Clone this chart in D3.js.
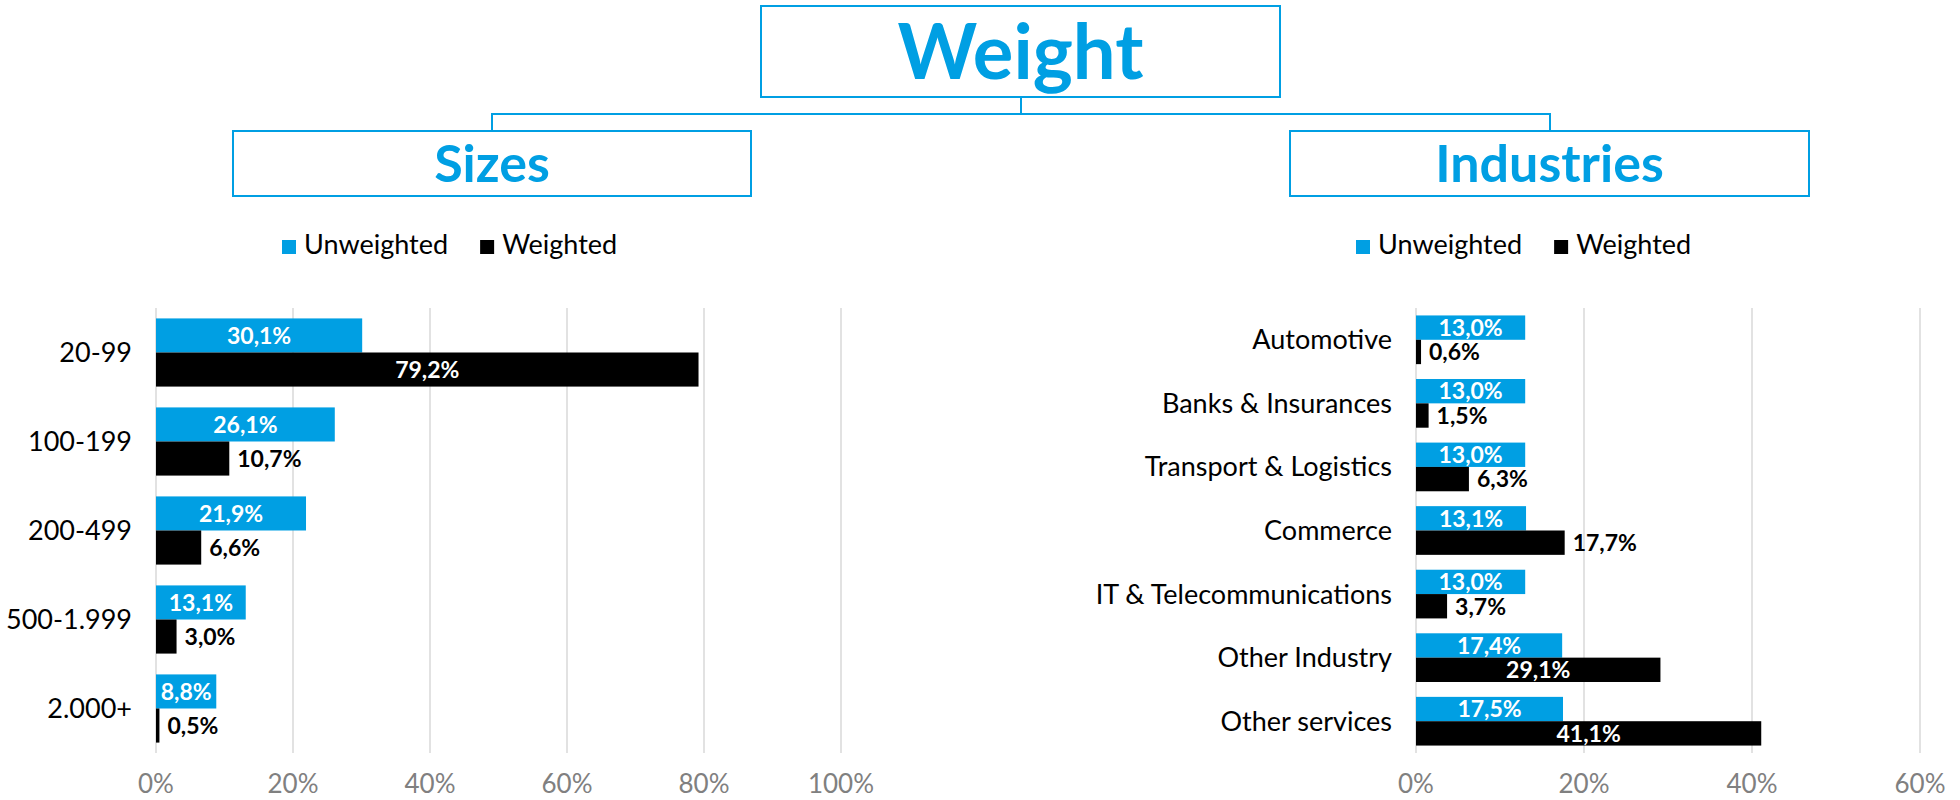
<!DOCTYPE html>
<html>
<head>
<meta charset="utf-8">
<script src="https://cdn.jsdelivr.net/npm/d3@7"></script>
<style>
  body { margin: 0; background: #fff; }
  svg { display: block; font-family: Lato, "Open Sans", sans-serif; }
</style>
</head>
<body>
<svg id="chart"></svg>
<script>
// chart values
const sizeCats = ["20-99", "100-199", "200-499", "500-1.999", "2.000+"];
const sizeUnweighted = [0.301, 0.261, 0.219, 0.131, 0.088];
const sizeWeighted = [0.792, 0.107, 0.066, 0.030, 0.005];

const industryCats = ["Automotive", "Banks & Insurances", "Transport & Logistics", "Commerce",
    "IT & Telecommunications", "Other Industry", "Other services"];
const industryUnweighted = [0.130, 0.130, 0.130, 0.131, 0.130, 0.174, 0.175];
const industryWeighted = [0.006, 0.015, 0.063, 0.177, 0.037, 0.291, 0.411];

const seriesNames = ["Unweighted", "Weighted"];
const sizeTicks = [0, 0.2, 0.4, 0.6, 0.8, 1];
const industryTicks = [0, 0.2, 0.4, 0.6];

const blue = "#009fe3";
const colors = [blue, "#000000"];

const svg = d3.select("#chart")
    .attr("width", 1960)
    .attr("height", 800);

// german style percent format (comma decimal)
const locale = d3.formatLocale({ decimal: ",", thousands: ".", grouping: [3], currency: ["", "€"] });
const fmtValue = locale.format(".1%");
const fmtTick = locale.format(".0%");

// ---- header: title boxes and connectors
let header = svg.append("g");

// connector lines
header.append("path")
    .attr("d", "M1021,97 V114 M492,131 V114 H1550 V131")
    .attr("fill", "none")
    .attr("stroke", blue)
    .attr("stroke-width", 2);

let boxes = [
    { text: "Weight", x: 761, y: 6, w: 519, h: 91, size: 76 },
    { text: "Sizes", x: 233, y: 131, w: 518, h: 65, size: 52 },
    { text: "Industries", x: 1290, y: 131, w: 519, h: 65, size: 52 }
];

header.selectAll("rect")
    .data(boxes)
    .enter().append("rect")
        .attr("x", d => d.x)
        .attr("y", d => d.y)
        .attr("width", d => d.w)
        .attr("height", d => d.h)
        .attr("fill", "#fff")
        .attr("stroke", blue)
        .attr("stroke-width", 2);

header.selectAll("text")
    .data(boxes)
    .enter().append("text")
        .attr("x", d => d.x + d.w / 2)
        .attr("y", d => d.y + d.h / 2)
        .attr("dy", "0.36em")
        .attr("text-anchor", "middle")
        .attr("font-size", d => d.size)
        .attr("font-weight", "bold")
        .attr("fill", blue)
        .text(d => d.text);

// ---- one bar panel
function panel(cfg) {
    let g = svg.append("g");

    let x = d3.scaleLinear()
        .domain([0, cfg.max])
        .range([cfg.x0, cfg.x1]);

    let y = d3.scaleBand()
        .domain(cfg.cats)
        .range([308, 753])
        .paddingInner(0.234)
        .paddingOuter(0.117);

    let ySub = d3.scaleBand()
        .domain(seriesNames)
        .range([0, y.bandwidth()]);

    // gridlines
    g.selectAll(".grid")
        .data(cfg.ticks)
        .enter().append("line")
            .attr("x1", d => x(d))
            .attr("x2", d => x(d))
            .attr("y1", 308)
            .attr("y2", 753)
            .attr("stroke", "#d9d9d9")
            .attr("stroke-width", 1.5);

    // tick labels
    g.selectAll(".tick")
        .data(cfg.ticks)
        .enter().append("text")
            .attr("x", d => x(d))
            .attr("y", 793)
            .attr("text-anchor", "middle")
            .attr("font-size", 26)
            .attr("fill", "#808080")
            .text(d => fmtTick(d));

    // category labels
    g.selectAll(".cat")
        .data(cfg.cats)
        .enter().append("text")
            .attr("x", x(0) - 24)
            .attr("y", d => y(d) + y.bandwidth() / 2)
            .attr("dy", "0.35em")
            .attr("text-anchor", "end")
            .attr("font-size", 27)
            .attr("fill", "#000")
            .text(d => d);

    // rows for bars
    let rows = [];
    cfg.cats.forEach((c, i) => {
        rows.push({ cat: c, series: seriesNames[0], value: cfg.unweighted[i], color: colors[0] });
        rows.push({ cat: c, series: seriesNames[1], value: cfg.weighted[i], color: colors[1] });
    });

    g.selectAll(".bar")
        .data(rows)
        .enter().append("rect")
            .attr("x", x(0))
            .attr("y", d => y(d.cat) + ySub(d.series))
            .attr("width", d => x(d.value) - x(0))
            .attr("height", ySub.bandwidth())
            .attr("fill", d => d.color);

    // value labels: unweighted always centred inside, weighted inside only if the bar is long enough
    let labels = g.selectAll(".val")
        .data(rows)
        .enter().append("text")
            .attr("y", d => y(d.cat) + ySub(d.series) + ySub.bandwidth() / 2)
            .attr("dy", "0.36em")
            .attr("font-size", 23)
            .attr("font-weight", "bold")
            .text(d => fmtValue(d.value));

    labels.each(function(d) {
        let t = d3.select(this);
        let barW = x(d.value) - x(0);
        let textW = this.getComputedTextLength();
        let inside = d.series === seriesNames[0] || barW >= textW + 100;
        if (inside) {
            t.attr("x", x(0) + barW / 2).attr("text-anchor", "middle").attr("fill", "#fff");
        } else {
            t.attr("x", x(d.value) + 8).attr("text-anchor", "start").attr("fill", "#000");
        }
    });

    // legend
    let lx = cfg.legendX;
    seriesNames.forEach((s, i) => {
        g.append("rect")
            .attr("x", lx)
            .attr("y", 240)
            .attr("width", 14)
            .attr("height", 14)
            .attr("fill", colors[i]);
        let t = g.append("text")
            .attr("x", lx + 22)
            .attr("y", 254)
            .attr("font-size", 27)
            .attr("fill", "#000")
            .text(s);
        lx += 22 + t.node().getComputedTextLength() + 32;
    });
}

panel({
    cats: sizeCats, unweighted: sizeUnweighted, weighted: sizeWeighted,
    max: 1, ticks: sizeTicks, x0: 156, x1: 841, legendX: 282
});

panel({
    cats: industryCats, unweighted: industryUnweighted, weighted: industryWeighted,
    max: 0.6, ticks: industryTicks, x0: 1416, x1: 1920, legendX: 1356
});
</script>
</body>
</html>
